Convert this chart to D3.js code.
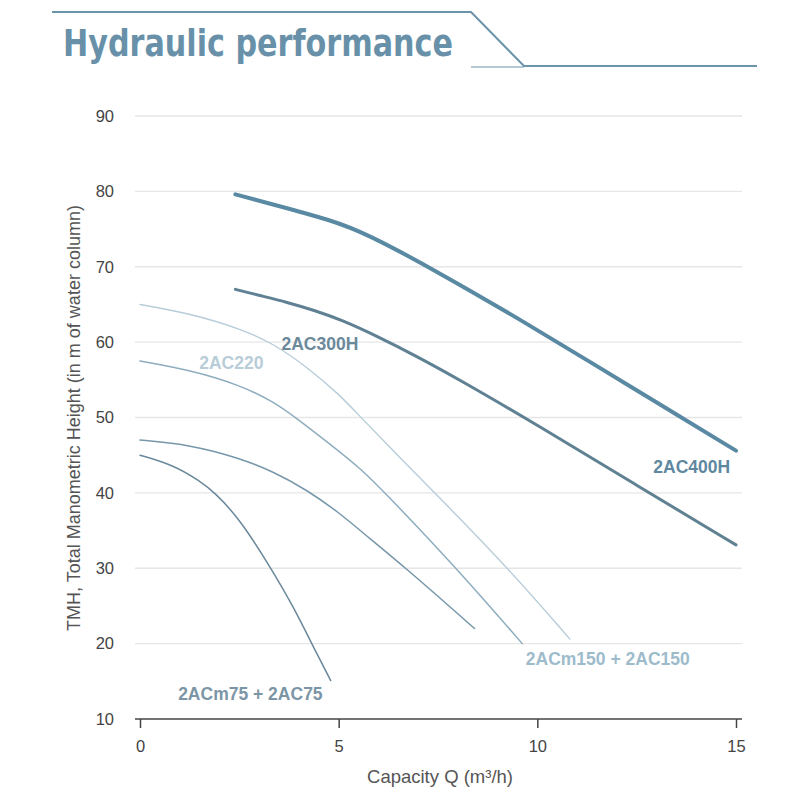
<!DOCTYPE html>
<html>
<head>
<meta charset="utf-8">
<script src="https://cdn.jsdelivr.net/npm/d3@7"></script>
<style>
  body { margin: 0; background: #fff; }
  svg { display: block; }
</style>
</head>
<body>
<div id="chart"></div>
<script>

// curve data: [Q (m3/h), H (m)]
const ac400h = [[2.4, 79.6], [3.4, 78.2], [4.8, 76.2], [5.7, 74.4], [7.4, 69.6], [9.6, 62.9], [11.6, 56.5], [13.0, 52.0], [15.0, 45.6]];
const ac300h = [[2.4, 67.0], [3.0, 66.2], [3.7, 65.3], [4.4, 64.2], [5.1, 62.9], [6.0, 60.7], [6.9, 58.3], [8.05, 55.0], [10.0, 49.0], [12.5, 41.0], [15.0, 33.1]];
const ac220 = [[0, 65.0], [1.26, 63.8], [2.52, 61.8], [3.36, 59.8], [4.2, 56.7], [5.03, 53.0], [5.54, 50.1], [6.5, 44.9], [7.42, 40.0], [9.27, 30.0], [10.82, 20.6]];
const ac150b = [[0, 57.5], [1.26, 56.3], [2.52, 54.3], [3.36, 52.1], [3.94, 49.9], [4.7, 46.8], [5.54, 43.3], [6.17, 40.0], [7.97, 30.0], [9.62, 20.0]];
const ac150a = [[0, 47.0], [1.26, 46.4], [2.52, 44.6], [3.36, 42.8], [4.2, 40.4], [5.03, 37.3], [5.54, 35.0], [6.7, 30.0], [8.42, 22.0]];
const ac75 = [[0, 45.0], [0.84, 43.7], [1.5, 41.6], [1.89, 40.0], [2.5, 36.6], [3.3, 30.0], [3.9, 24.5], [4.32, 20.0], [4.8, 15.1]];

const xTicks = [0, 5, 10, 15];
const yTicks = [10, 20, 30, 40, 50, 60, 70, 80, 90];

const series = [
  { name: "2AC220", data: ac220, color: "#b7cdd8", width: 1.4 },
  { name: "2ACm150b", data: ac150b, color: "#8eadbf", width: 1.5 },
  { name: "2ACm150a", data: ac150a, color: "#7797aa", width: 1.5 },
  { name: "2ACm75", data: ac75, color: "#6a889b", width: 1.5 },
  { name: "2AC300H", data: ac300h, color: "#5f8193", width: 3 },
  { name: "2AC400H", data: ac400h, color: "#5a89a3", width: 4 }
];

// curve labels, anchored in data space
const labels = [
  { text: "2AC300H", q: 3.56, h: 59.0, color: "#6b899b" },
  { text: "2AC220", q: 1.49, h: 56.4, color: "#b8cdd8" },
  { text: "2AC400H", q: 12.92, h: 42.6, color: "#5e88a0" },
  { text: "2ACm150 + 2AC150", q: 9.71, h: 17.2, color: "#9dbbcb" },
  { text: "2ACm75 + 2AC75", q: 0.96, h: 12.5, color: "#7b95a6" }
];

const width = 800, height = 800;

const svg = d3.select("#chart")
  .append("svg")
  .attr("width", width)
  .attr("height", height);

// header decoration
const headColor = "#6b94ab";
svg.append("path")
  .attr("d", "M52,12 L471,12 L524,66 L757,66")
  .attr("fill", "none")
  .attr("stroke", headColor)
  .attr("stroke-width", 2);
svg.append("line")
  .attr("x1", 471).attr("x2", 524)
  .attr("y1", 67).attr("y2", 67)
  .attr("stroke", headColor)
  .attr("stroke-width", 1);

svg.append("text")
  .attr("x", 63)
  .attr("y", 56)
  .attr("font-family", "DejaVu Sans Condensed, DejaVu Sans, sans-serif")
  .attr("font-weight", "bold")
  .attr("font-size", 38)
  .attr("textLength", 390)
  .attr("lengthAdjust", "spacingAndGlyphs")
  .attr("fill", "#6891a9")
  .text("Hydraulic performance");

// scales
const xScale = d3.scaleLinear().domain([0, 15]).range([140, 736]);
const yScale = d3.scaleLinear().domain([10, 90]).range([719, 116]);

// gridlines
svg.append("g")
  .selectAll("line")
  .data(yTicks.filter(d => d > 10))
  .enter()
  .append("line")
    .attr("x1", 135)
    .attr("x2", 742)
    .attr("y1", d => yScale(d))
    .attr("y2", d => yScale(d))
    .attr("stroke", "#e6e6e6")
    .attr("stroke-width", 1.3);

// y axis labels only
const yAxis = svg.append("g")
  .attr("transform", "translate(126,0)")
  .call(d3.axisLeft(yScale).tickValues(yTicks).tickSize(0).tickPadding(12));
yAxis.select(".domain").remove();
yAxis.selectAll("text")
  .attr("font-family", "Liberation Sans, Arial, sans-serif")
  .attr("font-size", 16.5)
  .attr("fill", "#444");

// x axis
const xAxis = svg.append("g")
  .attr("transform", `translate(0,${yScale(10)})`)
  .call(d3.axisBottom(xScale).tickValues(xTicks).tickSize(9).tickPadding(12).tickSizeOuter(0));
xAxis.select(".domain")
  .attr("d", "M135,0H742")
  .attr("stroke", "#444")
  .attr("stroke-width", 1.5);
xAxis.selectAll(".tick line")
  .attr("stroke", "#444")
  .attr("stroke-width", 1.5);
xAxis.selectAll("text")
  .attr("font-family", "Liberation Sans, Arial, sans-serif")
  .attr("font-size", 16.5)
  .attr("fill", "#444");

// axis titles
svg.append("text")
  .attr("transform", "translate(80,418) rotate(-90)")
  .attr("text-anchor", "middle")
  .attr("font-family", "Liberation Sans, Arial, sans-serif")
  .attr("font-size", 18)
  .attr("fill", "#555")
  .text("TMH, Total Manometric Height (in m of water column)");

svg.append("text")
  .attr("x", 440)
  .attr("y", 783)
  .attr("text-anchor", "middle")
  .attr("font-family", "Liberation Sans, Arial, sans-serif")
  .attr("font-size", 18.5)
  .attr("fill", "#555")
  .text("Capacity Q (m³/h)");

// curves: b-spline smooths out reading noise, keeps end points
const line = d3.line()
  .x(d => xScale(d[0]))
  .y(d => yScale(d[1]))
  .curve(d3.curveBasis);

svg.append("g")
  .selectAll("path")
  .data(series)
  .enter()
  .append("path")
    .attr("d", d => line(d.data))
    .attr("fill", "none")
    .attr("stroke", d => d.color)
    .attr("stroke-width", d => d.width)
    .attr("stroke-linecap", "round");

svg.append("g")
  .selectAll("text")
  .data(labels)
  .enter()
  .append("text")
    .attr("x", d => xScale(d.q))
    .attr("y", d => yScale(d.h))
    .attr("font-family", "Liberation Sans, Arial, sans-serif")
    .attr("font-weight", "bold")
    .attr("font-size", 17.5)
    .attr("fill", d => d.color)
    .text(d => d.text);

</script>
</body>
</html>
